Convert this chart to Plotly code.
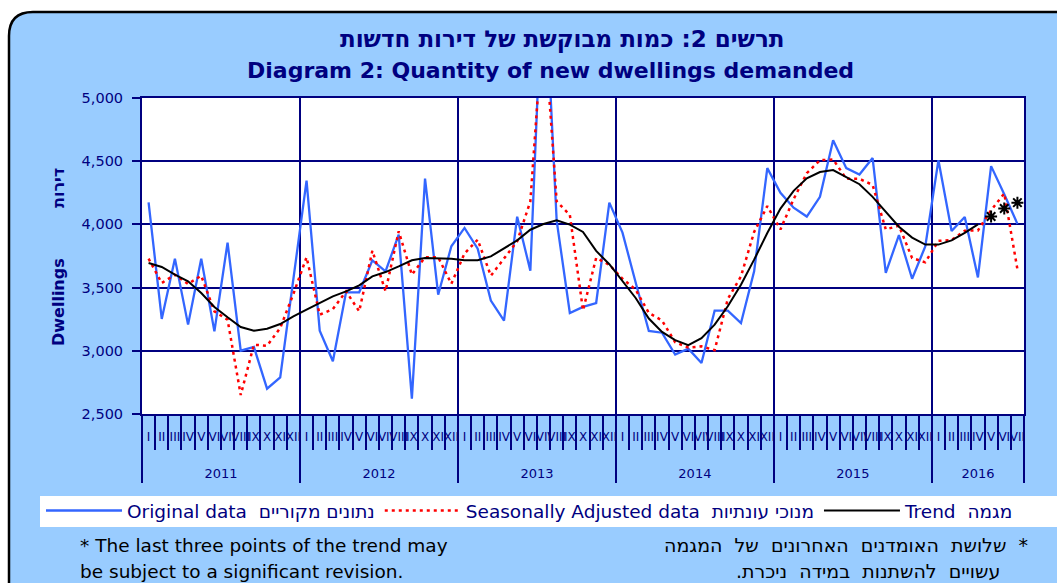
import plotly.graph_objects as go

# ---------------- data ----------------
months = ["I", "II", "III", "IV", "V", "VI", "VII", "VIII", "IX", "X", "XI", "XII"]
years = ["2011", "2012", "2013", "2014", "2015", "2016"]
month_labels = months * 5 + months[:7]

original = [
    4175, 3252, 3729, 3207, 3729, 3154, 3856, 3001, 3030, 2700, 2790, 3560,   # 2011
    4346, 3159, 2917, 3463, 3463, 3716, 3629, 3919, 2621, 4362, 3444, 3827,   # 2012
    3972, 3808, 3397, 3238, 4061, 3634, 6170, 4030, 3299, 3347, 3378, 4172,   # 2013
    3935, 3540, 3157, 3143, 2970, 3017, 2904, 3318, 3318, 3220, 3629, 4445,   # 2014
    4250, 4132, 4062, 4218, 4665, 4445, 4395, 4525, 3617, 3916, 3570, 3826,   # 2015
    4508, 3948, 4058, 3580, 4461, 4238, 4004,                                 # 2016
]
seasonally_adjusted = [
    3729, 3536, 3602, 3529, 3594, 3312, 3246, 2650, 3048, 3040, 3180, 3450,   # 2011
    3740, 3286, 3330, 3470, 3312, 3792, 3471, 3945, 3602, 3740, 3740, 3530,   # 2012
    3770, 3879, 3594, 3734, 3866, 4182, 5650, 4182, 4075, 3320, 3735, 3680,   # 2013
    3570, 3484, 3300, 3240, 3068, 3026, 3035, 3005, 3410, 3589, 3940, 4145,   # 2014
    3960, 4200, 4405, 4508, 4514, 4361, 4361, 4312, 3960, 3990, 3734, 3700,   # 2015
    3870, 3876, 3950, 3952, 4112, 4245, 3645,                                 # 2016
]
trend = [
    3695, 3663, 3602, 3550, 3457, 3347, 3265, 3188, 3159, 3175, 3212, 3273,   # 2011
    3326, 3378, 3431, 3470, 3518, 3589, 3623, 3668, 3716, 3734, 3734, 3729,   # 2012
    3716, 3716, 3747, 3808, 3874, 3958, 4003, 4032, 3998, 3940, 3790, 3685,   # 2013
    3556, 3418, 3255, 3149, 3084, 3044, 3100, 3207, 3352, 3523, 3721, 3932,   # 2014
    4125, 4265, 4364, 4414, 4430, 4377, 4318, 4218, 4100, 3982, 3896, 3840,   # 2015
    3840, 3874, 3933, 4000,                                                   # 2016
]
trend_provisional = [4063, 4126, 4172]   # last three trend points (asterisks)

# ---------------- layout helpers ----------------
W, H = 1057, 583
ML, MR, MT, MB = 142, 33, 98, 169
NAVY = "#000080"
BG = "#99CCFF"
FONT = "DejaVu Sans"


def fx(xp):
    return (xp - ML) / (W - ML - MR)


def fy(yp):
    return (H - MB - yp) / (H - MT - MB)


n = len(original)
x = list(range(n))
x_trend = x[:len(trend)]
x_prov = x[len(trend):]

month_bounds = [i - 0.5 for i in range(n + 1)]
year_bounds = [12 * k - 0.5 for k in range(len(years))] + [n - 0.5]
year_centers = [(12 * k + min(12 * k + 12, n) - 1) / 2 for k in range(len(years))]

fig = go.Figure()
fig.add_trace(go.Scatter(
    x=x, y=original, mode="lines", name="Original data  נתונים מקוריים",
    line=dict(color="#3366FF", width=2.3)))
fig.add_trace(go.Scatter(
    x=x, y=seasonally_adjusted, mode="lines",
    name="Seasonally Adjusted data  מנוכי עונתיות",
    line=dict(color="#FF0000", width=2.5, dash="3px,4px")))
fig.add_trace(go.Scatter(
    x=x_trend, y=trend, mode="lines", name="Trend  מגמה",
    line=dict(color="#000000", width=2)))
fig.add_trace(go.Scatter(
    x=x_prov, y=trend_provisional, mode="markers", showlegend=False,
    marker=dict(symbol="asterisk-open", size=10, color="#000000",
                line=dict(color="#000000", width=2))))
# carrier for the year axis
fig.add_trace(go.Scatter(x=[None], y=[None], xaxis="x2", showlegend=False,
                         hoverinfo="skip"))

shapes = [
    # white area outside the rounded frame
    dict(type="path", xref="paper", yref="paper", layer="below",
         path=("M {a},{b} L {c},{b} L {c},{d} L {e},{d} Q {f},{d} {f},{g} "
               "L {f},{h} L {a},{h} Z").format(
             a=fx(-5), b=fy(-5), c=fx(W + 5), d=fy(12), e=fx(33), f=fx(9),
             g=fy(36), h=fy(H + 5)),
         fillcolor="white", line=dict(width=0)),
    # frame outline
    dict(type="path", xref="paper", yref="paper", layer="below",
         path="M {f},{h} L {f},{g} Q {f},{d} {e},{d} L {c},{d}".format(
             f=fx(9), h=fy(H + 10), g=fy(36), d=fy(12), e=fx(33), c=fx(W + 10)),
         line=dict(color="#000000", width=2.5)),
    # legend band
    dict(type="rect", xref="paper", yref="paper", layer="below",
         x0=fx(40), x1=fx(W + 5), y0=fy(527), y1=fy(496),
         fillcolor="white", line=dict(width=0)),
]

annotations = [
    dict(text="\u200fתרשים 2: כמות מבוקשת של דירות חדשות\u200f",
         x=fx(562), y=fy(40), xref="paper", yref="paper", showarrow=False,
         xanchor="center", yanchor="middle",
         font=dict(family=FONT, size=23, color=NAVY, weight="bold")),
    dict(text="<b>Diagram 2: Quantity of new dwellings demanded</b>",
         x=fx(550), y=fy(70), xref="paper", yref="paper", showarrow=False,
         xanchor="center", yanchor="middle",
         font=dict(family=FONT, size=22, color=NAVY)),
    dict(text="<b>Dwellings</b>", x=fx(58), y=fy(302), xref="paper", yref="paper",
         showarrow=False, textangle=-90, xanchor="center", yanchor="middle",
         font=dict(family=FONT, size=16, color=NAVY)),
    dict(text="<b>דירות</b>", x=fx(58), y=fy(188), xref="paper", yref="paper",
         showarrow=False, textangle=-90, xanchor="center", yanchor="middle",
         font=dict(family=FONT, size=16, color=NAVY)),
    dict(text="* The last three points of the trend may",
         x=fx(78), y=fy(545), xref="paper", yref="paper", showarrow=False,
         xanchor="left", yanchor="middle",
         font=dict(family=FONT, size=18.5, color="#000000")),
    dict(text="be subject to a significant revision.",
         x=fx(78), y=fy(571), xref="paper", yref="paper", showarrow=False,
         xanchor="left", yanchor="middle",
         font=dict(family=FONT, size=18.5, color="#000000")),
    dict(text="\u200f*  שלושת  האומדנים  האחרונים  של  המגמה\u200f",
         x=fx(1030), y=fy(545), xref="paper", yref="paper", showarrow=False,
         xanchor="right", yanchor="middle",
         font=dict(family=FONT, size=19, color="#000000")),
    dict(text="\u200fעשויים  להשתנות  במידה  ניכרת.\u200f",
         x=fx(1002), y=fy(571), xref="paper", yref="paper", showarrow=False,
         xanchor="right", yanchor="middle",
         font=dict(family=FONT, size=19, color="#000000")),
]

fig.update_layout(
    width=W, height=H,
    margin=dict(l=ML, r=MR, t=MT, b=MB, pad=0),
    paper_bgcolor=BG, plot_bgcolor="white",
    showlegend=True,
    legend=dict(orientation="h", x=fx(41), y=fy(511), xanchor="left",
                yanchor="middle", bgcolor="rgba(0,0,0,0)", itemwidth=76,
                font=dict(family=FONT, size=18.5, color=NAVY)),
    xaxis=dict(range=[-0.5, n - 0.5], tickmode="array", tickvals=x,
               ticktext=month_labels, tickangle=0, ticks="outside", ticklen=11,
               tickcolor="rgba(0,0,0,0)",
               tickfont=dict(family=FONT, size=12, color=NAVY),
               showgrid=False, zeroline=False, showline=True, linecolor=NAVY,
               linewidth=2, mirror=True,
               minor=dict(tickmode="array", tickvals=month_bounds, ticks="outside",
                          ticklen=34, tickwidth=2, tickcolor=NAVY, showgrid=False)),
    xaxis2=dict(overlaying="x", anchor="y", side="bottom", range=[-0.5, n - 0.5],
                tickmode="array", tickvals=year_centers, ticktext=years,
                tickangle=0, ticks="outside", ticklen=47,
                tickcolor="rgba(0,0,0,0)",
                tickfont=dict(family=FONT, size=13, color=NAVY),
                showgrid=False, zeroline=False, showline=False,
                minor=dict(tickmode="array", tickvals=year_bounds, ticks="outside",
                           ticklen=68, tickwidth=2, tickcolor=NAVY, showgrid=True,
                           gridcolor=NAVY, gridwidth=2)),
    yaxis=dict(range=[2500, 5000], tickmode="linear", tick0=2500, dtick=500,
               tickformat=",", ticks="outside", ticklen=8, tickwidth=2,
               tickcolor=NAVY, showline=True, linecolor=NAVY, linewidth=2,
               mirror=True, showgrid=True, gridcolor=NAVY, gridwidth=2,
               zeroline=False, ticklabelstandoff=6,
               tickfont=dict(family=FONT, size=14.5, color=NAVY)),
    shapes=shapes,
    annotations=annotations,
)

fig.write_html("out.html", include_plotlyjs=True,
               config={"displayModeBar": False},
               post_script="document.body.style.margin='0';")
